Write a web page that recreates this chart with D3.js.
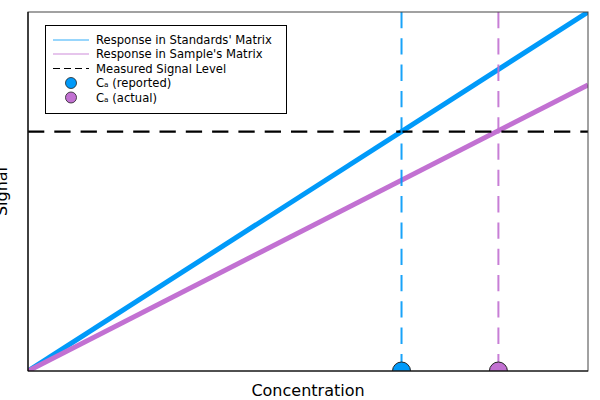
<!DOCTYPE html>
<html><head><meta charset="utf-8">
<script src="https://cdn.jsdelivr.net/npm/d3@7"></script>
<style>body{margin:0;background:#fff}svg{display:block;font-family:"DejaVu Sans",sans-serif}</style>
</head><body>
<script>
const concentration = [0, 10];
const standardsSignal = [0, 10];
const sampleSignal = [0, 7.97];
const measuredSignal = 6.67;
const caReported = 6.67;
const caActual = 8.4;
const seriesNames = ["Response in Standards' Matrix", "Response in Sample's Matrix", "Measured Signal Level", "Cₐ (reported)", "Cₐ (actual)"];
const xLabel = "Concentration";
const yLabel = "Signal";

const W = 600, H = 400;
const m = {l: 28, r: 12, t: 12, b: 29};
const blue = "#009AF9", purple = "#C271D2";

const svg = d3.select("body").append("svg").attr("width", W).attr("height", H);
const x = d3.scaleLinear().domain([0, 10]).range([m.l, W - m.r]);
const y = d3.scaleLinear().domain([0, 10]).range([H - m.b, m.t]);

svg.append("clipPath").attr("id", "clip").append("rect")
  .attr("x", m.l).attr("y", m.t).attr("width", W - m.l - m.r).attr("height", H - m.t - m.b);

const g = svg.append("g").attr("clip-path", "url(#clip)");
const line = d3.line().x(d => x(d[0])).y(d => y(d[1]));

g.append("path").datum(concentration.map((c, i) => [c, standardsSignal[i]]))
  .attr("d", line).attr("fill", "none").attr("stroke", blue).attr("stroke-width", 5);
g.append("path").datum(concentration.map((c, i) => [c, sampleSignal[i]]))
  .attr("d", line).attr("fill", "none").attr("stroke", purple).attr("stroke-width", 5);

g.append("line").attr("x1", x(0)).attr("x2", x(10)).attr("y1", y(measuredSignal)).attr("y2", y(measuredSignal))
  .attr("stroke", "#000").attr("stroke-width", 2.2).attr("stroke-dasharray", "16.3,10");
g.append("line").attr("x1", x(caReported)).attr("x2", x(caReported)).attr("y1", y(10)).attr("y2", y(0))
  .attr("stroke", blue).attr("stroke-width", 2).attr("stroke-dasharray", "16.3,10").attr("opacity", 0.9);
g.append("line").attr("x1", x(caActual)).attr("x2", x(caActual)).attr("y1", y(10)).attr("y2", y(0))
  .attr("stroke", purple).attr("stroke-width", 2).attr("stroke-dasharray", "16.3,10").attr("opacity", 0.9);

g.append("circle").attr("cx", x(caReported)).attr("cy", y(0)).attr("r", 9)
  .attr("fill", blue).attr("stroke", "#222").attr("stroke-width", 1);
g.append("circle").attr("cx", x(caActual)).attr("cy", y(0)).attr("r", 9)
  .attr("fill", purple).attr("stroke", "#222").attr("stroke-width", 1);

// frame
svg.append("rect").attr("x", m.l).attr("y", m.t).attr("width", W - m.l - m.r).attr("height", H - m.t - m.b)
  .attr("fill", "none").attr("stroke", "#444").attr("stroke-width", 1);
svg.append("line").attr("x1", m.l).attr("x2", W - m.r).attr("y1", H - m.b).attr("y2", H - m.b)
  .attr("stroke", "#000").attr("stroke-width", 1.2);
svg.append("line").attr("x1", m.l).attr("x2", m.l).attr("y1", m.t).attr("y2", H - m.b)
  .attr("stroke", "#000").attr("stroke-width", 1.2);

// axis labels
svg.append("text").attr("x", (m.l + W - m.r) / 2).attr("y", 396).attr("text-anchor", "middle")
  .attr("font-size", 16).text(xLabel);
svg.append("text").attr("transform", `translate(7,${(m.t + H - m.b) / 2}) rotate(-90)`)
  .attr("text-anchor", "middle").attr("font-size", 16).text(yLabel);

// legend
const lg = svg.append("g");
lg.append("rect").attr("x", 45.5).attr("y", 25.5).attr("width", 241).attr("height", 88)
  .attr("fill", "#fff").attr("stroke", "#000").attr("stroke-width", 1);
const ly = [40, 54, 68.5, 83, 97.5];
lg.append("line").attr("x1", 53).attr("x2", 89).attr("y1", ly[0]).attr("y2", ly[0]).attr("stroke", blue).attr("stroke-width", 1.2).attr("opacity", 0.8);
lg.append("line").attr("x1", 53).attr("x2", 89).attr("y1", ly[1]).attr("y2", ly[1]).attr("stroke", purple).attr("stroke-width", 1.2).attr("opacity", 0.8);
lg.append("line").attr("x1", 53).attr("x2", 89).attr("y1", ly[2]).attr("y2", ly[2]).attr("stroke", "#000").attr("stroke-width", 1.2).attr("stroke-dasharray", "7,4");
lg.append("circle").attr("cx", 71).attr("cy", ly[3]).attr("r", 5.5).attr("fill", blue).attr("stroke", "#222").attr("stroke-width", 0.8);
lg.append("circle").attr("cx", 71).attr("cy", ly[4]).attr("r", 5.5).attr("fill", purple).attr("stroke", "#222").attr("stroke-width", 0.8);
seriesNames.forEach((s, i) => {
  lg.append("text").attr("x", 96).attr("y", ly[i]).attr("dy", "0.35em").attr("font-size", 11.6).text(s);
});
</script>
</body></html>
